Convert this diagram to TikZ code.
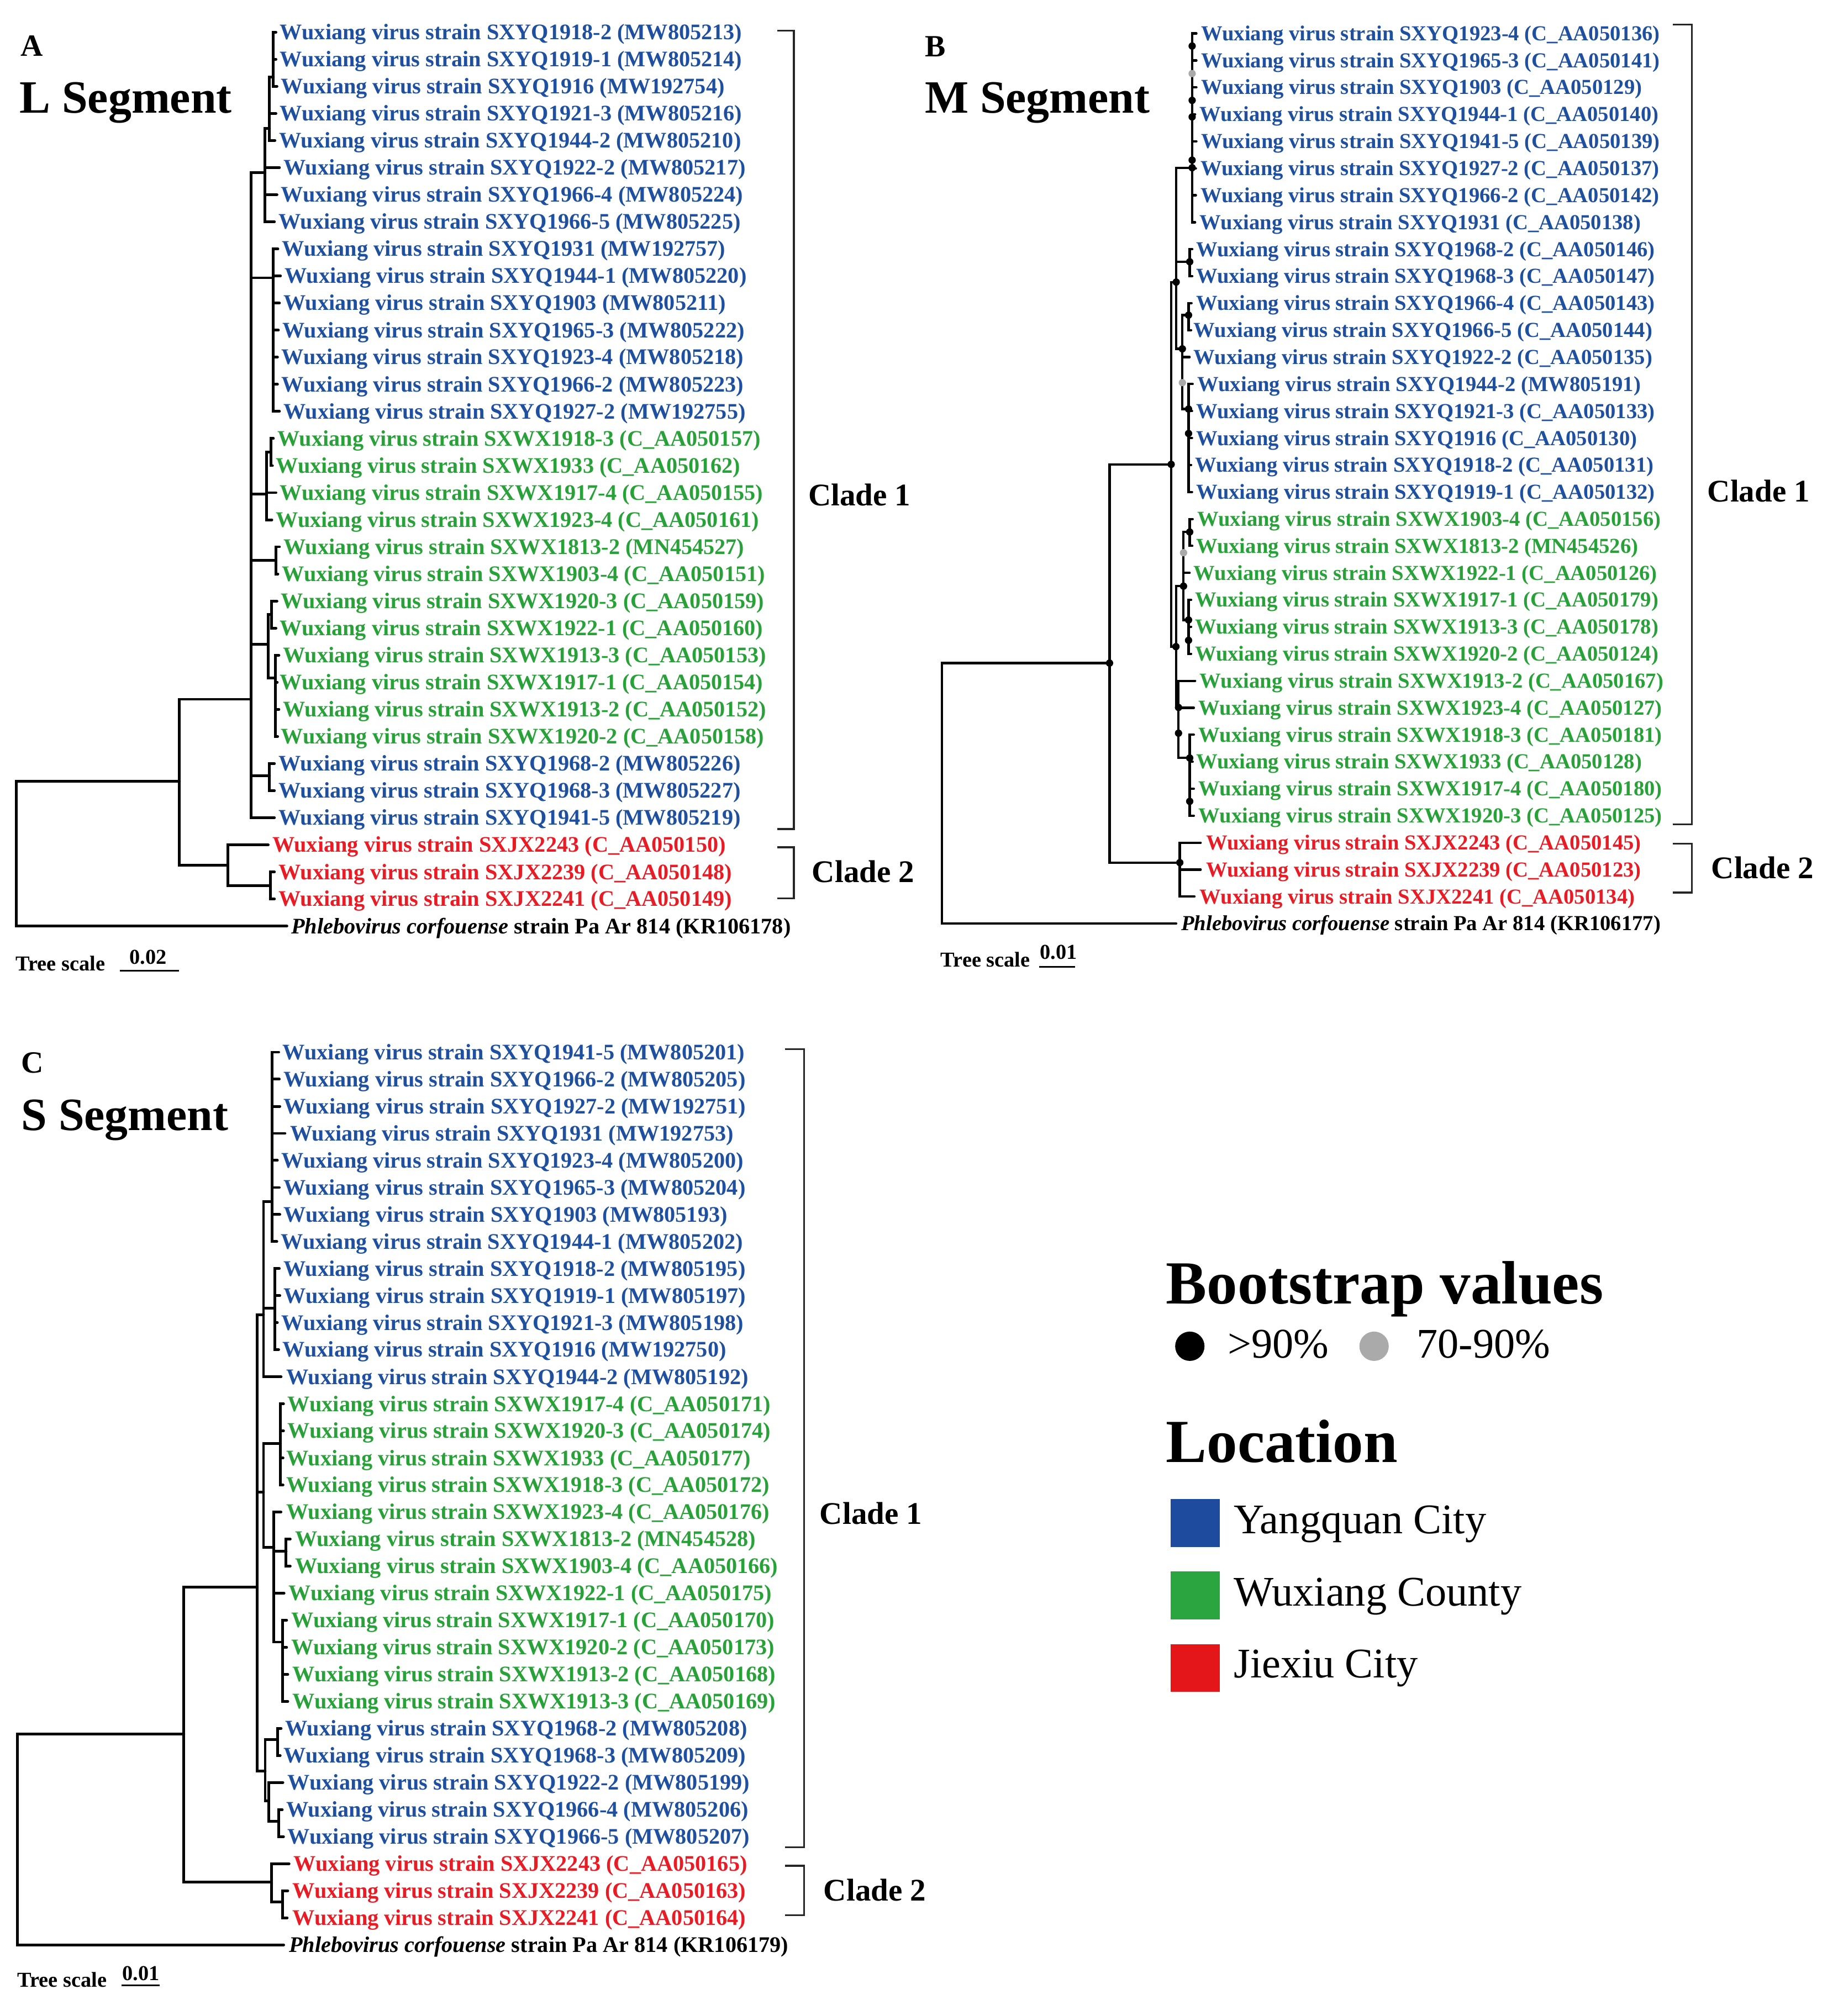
\documentclass[tikz,border=0pt]{standalone}
\usepackage{fontspec}
\setmainfont{Liberation Serif}
\definecolor{cblue}{RGB}{31,80,160}
\definecolor{cgreen}{RGB}{41,161,57}
\definecolor{cred}{RGB}{232,28,36}
\definecolor{lblue}{RGB}{31,75,159}
\definecolor{lgreen}{RGB}{43,165,64}
\definecolor{lred}{RGB}{229,22,26}
\definecolor{bsgray}{RGB}{170,170,170}
\tikzset{
  br/.style={line width=2.1pt, line join=miter, line cap=round},
  brB/.style={line width=1.8pt, line join=miter, line cap=round},
  brk/.style={line width=1.5pt, draw=black!85},
  lbl/.style={font=\fontsize{17.3}{20}\selectfont\bfseries, inner sep=0pt, anchor=base west},
  lblB/.style={font=\fontsize{16.6}{19}\selectfont\bfseries, inner sep=0pt, anchor=base west},
  outlbl/.style={font=\fontsize{17.3}{20}\selectfont\bfseries, inner sep=0pt, anchor=base west, text=black},
  outlblB/.style={font=\fontsize{16.6}{19}\selectfont\bfseries, inner sep=0pt, anchor=base west, text=black},
  clade/.style={font=\fontsize{24.5}{28}\selectfont\bfseries, inner sep=0pt, anchor=base west},
  panel/.style={font=\fontsize{24}{28}\selectfont\bfseries, inner sep=0pt, anchor=base west},
  segtitle/.style={font=\fontsize{36}{40}\selectfont\bfseries, inner sep=0pt, anchor=base west},
  scalelbl/.style={font=\fontsize{16.5}{19}\selectfont\bfseries, inner sep=0pt, anchor=base west},
  leghead/.style={font=\fontsize{47.6}{52}\selectfont\bfseries, inner sep=0pt, anchor=base west},
  legtxt/.style={font=\fontsize{32.8}{36}\selectfont, inner sep=0pt, anchor=base west},
  bsdot/.style={fill=black},
  bsgr/.style={fill=bsgray},
}
\newcommand{\wleaf}[6]{%
  \coordinate (#1) at (#2,#4);
  \node[lbl,text=#5] (#1t) at (#3,#4+5.7) {Wuxiang virus strain #6};
}
\newcommand{\wleafB}[6]{%
  \coordinate (#1) at (#2,#4);
  \node[lblB,text=#5] (#1t) at (#3,#4+5.5) {Wuxiang virus strain #6};
}
\newcommand{\kids}[2]{\foreach \kk in {#2}{\draw[br] (#1) |- (\kk);}}
\newcommand{\kidsB}[2]{\foreach \kk in {#2}{\draw[brB] (#1) |- (\kk);}}
\newcommand{\bd}[1]{\fill[bsdot] (#1) circle (2.85pt);}
\newcommand{\gd}[1]{\fill[bsgr] (#1) circle (2.85pt);}
\begin{document}
\begin{tikzpicture}[x=1pt,y=-1pt]
\useasboundingbox[fill=white] (0,0) rectangle (1428.6,1567.3);

%% ================= PANEL A : L segment =================
\node[panel] (Alab) at (16,43.5) {A};
\node[segtitle] (Aseg) at (15,88) {L Segment};

\coordinate (AR) at (12.7,660);
\coordinate (AN1) at (139.5,607.5);
\coordinate (AC1) at (195,543.6);
\coordinate (AC2) at (177,672.6);
\coordinate (AC2b) at (210,688.4);
\coordinate (AS1) at (206,134);
\coordinate (AS1a) at (209.5,100);
\coordinate (AS1b) at (212.5,60);
\coordinate (AS2) at (212.5,216);
\coordinate (AG1) at (207,384);
\coordinate (AG1a) at (210.5,351.5);
\coordinate (AG2) at (214.3,435.6);
\coordinate (AG3) at (208.3,501);
\coordinate (AG3a) at (211,477.8);
\coordinate (AG3b) at (214,527);
\coordinate (AY3) at (209.5,603);

\wleaf{a1}{214.5}{217.5}{25.0}{cblue}{SXYQ1918-2 (MW805213)}
\wleaf{a2}{214.5}{217.5}{46.1}{cblue}{SXYQ1919-1 (MW805214)}
\wleaf{a3}{215.3}{218.3}{67.1}{cblue}{SXYQ1916 (MW192754)}
\wleaf{a4}{214.5}{217.5}{88.2}{cblue}{SXYQ1921-3 (MW805216)}
\wleaf{a5}{213.7}{216.7}{109.2}{cblue}{SXYQ1944-2 (MW805210)}
\wleaf{a6}{217.2}{220.2}{130.3}{cblue}{SXYQ1922-2 (MW805217)}
\wleaf{a7}{215.3}{218.3}{151.4}{cblue}{SXYQ1966-4 (MW805224)}
\wleaf{a8}{213.3}{216.3}{172.4}{cblue}{SXYQ1966-5 (MW805225)}
\wleaf{a9}{216}{219}{193.5}{cblue}{SXYQ1931 (MW192757)}
\wleaf{a10}{218}{221}{214.5}{cblue}{SXYQ1944-1 (MW805220)}
\wleaf{a11}{217.2}{220.2}{235.6}{cblue}{SXYQ1903 (MW805211)}
\wleaf{a12}{216.4}{219.4}{256.7}{cblue}{SXYQ1965-3 (MW805222)}
\wleaf{a13}{215.7}{218.7}{277.7}{cblue}{SXYQ1923-4 (MW805218)}
\wleaf{a14}{215.7}{218.7}{298.8}{cblue}{SXYQ1966-2 (MW805223)}
\wleaf{a15}{217.2}{220.2}{319.8}{cblue}{SXYQ1927-2 (MW192755)}
\wleaf{a16}{212.5}{215.5}{340.9}{cgreen}{SXWX1918-3 (C\_AA050157)}
\wleaf{a17}{211.8}{214.3}{362.0}{cgreen}{SXWX1933 (C\_AA050162)}
\wleaf{a18}{214.5}{217.5}{383.0}{cgreen}{SXWX1917-4 (C\_AA050155)}
\wleaf{a19}{211.3}{214.3}{404.1}{cgreen}{SXWX1923-4 (C\_AA050161)}
\wleaf{a20}{217.2}{220.2}{425.1}{cgreen}{SXWX1813-2 (MN454527)}
\wleaf{a21}{216}{219}{446.2}{cgreen}{SXWX1903-4 (C\_AA050151)}
\wleaf{a22}{215.3}{218.3}{467.3}{cgreen}{SXWX1920-3 (C\_AA050159)}
\wleaf{a23}{214.5}{217.5}{488.3}{cgreen}{SXWX1922-1 (C\_AA050160)}
\wleaf{a24}{216.8}{219.8}{509.4}{cgreen}{SXWX1913-3 (C\_AA050153)}
\wleaf{a25}{215.5}{217.5}{530.4}{cgreen}{SXWX1917-1 (C\_AA050154)}
\wleaf{a26}{216.8}{219.8}{551.5}{cgreen}{SXWX1913-2 (C\_AA050152)}
\wleaf{a27}{215.8}{218.3}{572.6}{cgreen}{SXWX1920-2 (C\_AA050158)}
\wleaf{a28}{213.3}{216.3}{593.6}{cblue}{SXYQ1968-2 (MW805226)}
\wleaf{a29}{213.3}{216.3}{614.7}{cblue}{SXYQ1968-3 (MW805227)}
\wleaf{a30}{213.3}{216.3}{635.7}{cblue}{SXYQ1941-5 (MW805219)}
\wleaf{a31}{208.5}{211.5}{656.8}{cred}{SXJX2243 (C\_AA050150)}
\wleaf{a32}{213.3}{216.3}{677.9}{cred}{SXJX2239 (C\_AA050148)}
\wleaf{a33}{213.3}{216.3}{698.9}{cred}{SXJX2241 (C\_AA050149)}
\coordinate (aout) at (223,720);
\node[outlbl] (aoutt) at (226.2,725.7) {\textit{Phlebovirus corfouense} strain Pa Ar 814 (KR106178)};

\kids{AR}{AN1,aout}
\kids{AN1}{AC1,AC2}
\kids{AC1}{AS1,AS2,AG1,AG2,AG3,AY3,a30}
\kids{AS1}{AS1a,a6,a7,a8}
\kids{AS1a}{AS1b,a4,a5}
\kids{AS1b}{a1,a2,a3}
\kids{AS2}{a9,a10,a11,a12,a13,a14,a15}
\kids{AG1}{AG1a,a18,a19}
\kids{AG1a}{a16,a17}
\kids{AG2}{a20,a21}
\kids{AG3}{AG3a,AG3b}
\kids{AG3a}{a22,a23}
\kids{AG3b}{a24,a25,a26,a27}
\kids{AY3}{a28,a29}
\kids{AC2}{a31,AC2b}
\kids{AC2b}{a32,a33}

\coordinate (Ab1t) at (604,23.8);
\coordinate (Ab1b) at (604,644.6);
\draw[brk] (Ab1t) -- ++(13,0) |- (Ab1b);
\coordinate (Ab2t) at (604,658.7);
\coordinate (Ab2b) at (604,698.4);
\draw[brk] (Ab2t) -- ++(13,0) |- (Ab2b);
\node[clade] (Acl1) at (628,393) {Clade 1};
\node[clade] (Acl2) at (631,686) {Clade 2};

\node[scalelbl] (Atsc) at (12,754.5) {Tree scale};
\node[scalelbl] (Atsn) at (100.5,749.5) {0.02};
\coordinate (Asb1) at (93,754.5);
\coordinate (Asb2) at (139,754.5);
\draw[line width=1.4pt] (Asb1) -- (Asb2);

%% ================= PANEL B : M segment =================
\node[panel] (Blab) at (718.6,44) {B};
\node[segtitle] (Bseg) at (718.6,88) {M Segment};

\coordinate (BR) at (732,620);
\coordinate (BN1) at (862.4,515.5);
\coordinate (BC2) at (917,670.6);
\coordinate (BX) at (910.3,361);
\coordinate (BY) at (914.2,219.3);
\coordinate (BP1) at (926.6,130.4);
\coordinate (BP2) at (924.7,203.5);
\coordinate (BP3) at (919,271.2);
\coordinate (BP3a) at (923.8,245);
\coordinate (BP4) at (923.8,318);
\coordinate (BG) at (914,502.7);
\coordinate (BGb) at (919.9,455.7);
\coordinate (BGa) at (924.7,413.6);
\coordinate (BGd) at (923.8,482);
\coordinate (BGc) at (916,550);
\coordinate (BGe) at (924.7,589.3);

\wleafB{b1}{929.9}{933.4}{26.0}{cblue}{SXYQ1923-4 (C\_AA050136)}
\wleafB{b2}{929.9}{933.4}{47.0}{cblue}{SXYQ1965-3 (C\_AA050141)}
\wleafB{b3}{929.9}{933.4}{67.9}{cblue}{SXYQ1903 (C\_AA050129)}
\wleafB{b4}{928.9}{932.4}{88.9}{cblue}{SXYQ1944-1 (C\_AA050140)}
\wleafB{b5}{929.9}{933.4}{109.9}{cblue}{SXYQ1941-5 (C\_AA050139)}
\wleafB{b6}{929.5}{933}{130.9}{cblue}{SXYQ1927-2 (C\_AA050137)}
\wleafB{b7}{929.5}{933}{151.8}{cblue}{SXYQ1966-2 (C\_AA050142)}
\wleafB{b8}{928.9}{932.4}{172.8}{cblue}{SXYQ1931 (C\_AA050138)}
\wleafB{b9}{926.7}{929.5}{193.8}{cblue}{SXYQ1968-2 (C\_AA050146)}
\wleafB{b10}{926.7}{929.5}{214.7}{cblue}{SXYQ1968-3 (C\_AA050147)}
\wleafB{b11}{926.1}{929.5}{235.7}{cblue}{SXYQ1966-4 (C\_AA050143)}
\wleafB{b12}{925.8}{927.6}{256.7}{cblue}{SXYQ1966-5 (C\_AA050144)}
\wleafB{b13}{924.6}{927.6}{277.6}{cblue}{SXYQ1922-2 (C\_AA050135)}
\wleafB{b14}{927}{930.5}{298.6}{cblue}{SXYQ1944-2 (MW805191)}
\wleafB{b15}{926.5}{929.5}{319.6}{cblue}{SXYQ1921-3 (C\_AA050133)}
\wleafB{b16}{926.5}{929.5}{340.6}{cblue}{SXYQ1916 (C\_AA050130)}
\wleafB{b17}{925.8}{928.6}{361.5}{cblue}{SXYQ1918-2 (C\_AA050131)}
\wleafB{b18}{926.5}{929.5}{382.5}{cblue}{SXYQ1919-1 (C\_AA050132)}
\wleafB{b19}{927}{930.5}{403.5}{cgreen}{SXWX1903-4 (C\_AA050156)}
\wleafB{b20}{926.7}{929.5}{424.4}{cgreen}{SXWX1813-2 (MN454526)}
\wleafB{b21}{924.6}{927.6}{445.4}{cgreen}{SXWX1922-1 (C\_AA050126)}
\wleafB{b22}{925.8}{928.6}{466.4}{cgreen}{SXWX1917-1 (C\_AA050179)}
\wleafB{b23}{925.8}{928.6}{487.3}{cgreen}{SXWX1913-3 (C\_AA050178)}
\wleafB{b24}{925.8}{928.6}{508.3}{cgreen}{SXWX1920-2 (C\_AA050124)}
\wleafB{b25}{928.9}{932.4}{529.3}{cgreen}{SXWX1913-2 (C\_AA050167)}
\wleafB{b26}{927.9}{931.4}{550.3}{cgreen}{SXWX1923-4 (C\_AA050127)}
\wleafB{b27}{927.9}{931.4}{571.2}{cgreen}{SXWX1918-3 (C\_AA050181)}
\wleafB{b28}{927}{929.5}{592.2}{cgreen}{SXWX1933 (C\_AA050128)}
\wleafB{b29}{927.9}{931.4}{613.2}{cgreen}{SXWX1917-4 (C\_AA050180)}
\wleafB{b30}{927.9}{931.4}{634.1}{cgreen}{SXWX1920-3 (C\_AA050125)}
\wleafB{b31}{933.2}{937.2}{655.1}{cred}{SXJX2243 (C\_AA050145)}
\wleafB{b32}{933.2}{937.2}{676.1}{cred}{SXJX2239 (C\_AA050123)}
\wleafB{b33}{928.4}{932.4}{697.0}{cred}{SXJX2241 (C\_AA050134)}
\coordinate (bout) at (914.2,718);
\node[outlblB] (boutt) at (918,723.5) {\textit{Phlebovirus corfouense} strain Pa Ar 814 (KR106177)};

\kidsB{BR}{BN1,bout}
\kidsB{BN1}{BX,BC2}
\kidsB{BX}{BY,BG}
\kidsB{BY}{BP1,BP2,BP3}
\kidsB{BP1}{b1,b2,b3,b4,b5,b6,b7,b8}
\kidsB{BP2}{b9,b10}
\kidsB{BP3}{BP3a,b13,BP4}
\kidsB{BP3a}{b11,b12}
\kidsB{BP4}{b14,b15,b16,b17,b18}
\kidsB{BG}{BGb,BGc}
\kidsB{BGb}{BGa,b21,BGd}
\kidsB{BGa}{b19,b20}
\kidsB{BGd}{b22,b23,b24}
\kidsB{BGc}{b25,b26,BGe}
\kidsB{BGe}{b27,b28,b29,b30}
\kidsB{BC2}{b31,b32,b33}

% bootstrap support dots
\foreach \nn in {BN1,BC2,BX,BY,BP1,BP2,BP3,BP3a,BP4,BG,BGb,BGa,BGd,BGc,BGe}{\bd{\nn}}
\bd{926.6,35.8}\bd{926.6,78}\bd{926.6,90.9}\bd{926.6,124.5}
\bd{923.8,337}\bd{923.8,497.8}\bd{916,570}\bd{924.7,623}
\gd{926.6,57.2}\gd{919,297.5}\gd{919.9,429.7}

\coordinate (Bb1t) at (1300,19.2);
\coordinate (Bb1b) at (1300,640.9);
\draw[brk] (Bb1t) -- ++(15,0) |- (Bb1b);
\coordinate (Bb2t) at (1300,655.9);
\coordinate (Bb2b) at (1300,694);
\draw[brk] (Bb2t) -- ++(15,0) |- (Bb2b);
\node[clade] (Bcl1) at (1327,390) {Clade 1};
\node[clade] (Bcl2) at (1330,683) {Clade 2};

\node[scalelbl] (Btsc) at (731,751.7) {Tree scale};
\node[scalelbl] (Btsn) at (808,745.7) {0.01};
\coordinate (Bsb1) at (807.8,751.7);
\coordinate (Bsb2) at (835.6,751.7);
\draw[line width=1.4pt] (Bsb1) -- (Bsb2);

%% ================= PANEL C : S segment =================
\node[panel] (Clab) at (16.3,834) {C};
\node[segtitle] (Cseg) at (16.3,878.6) {S Segment};

\coordinate (CR) at (13.4,1420);
\coordinate (CN1) at (142.9,1348.2);
\coordinate (CC1) at (200,1234);
\coordinate (CNY) at (204.8,1022);
\coordinate (CY1) at (211.5,934.3);
\coordinate (CY2) at (213.5,1017);
\coordinate (CNG) at (204.8,1160);
\coordinate (CG1) at (218,1122.4);
\coordinate (CNG2) at (212.9,1203);
\coordinate (CG1920) at (222.4,1206);
\coordinate (CG4) at (219.6,1276.6);
\coordinate (CB2) at (206.1,1377);
\coordinate (CB2a) at (215.7,1352.3);
\coordinate (CB2b) at (209,1400);
\coordinate (CB2c) at (216.7,1415.8);
\coordinate (CC2) at (210.9,1463.3);
\coordinate (CC2b) at (219.6,1478.5);

\wleaf{c1}{216.6}{219.6}{818.0}{cblue}{SXYQ1941-5 (MW805201)}
\wleaf{c2}{217.1}{220.1}{839.0}{cblue}{SXYQ1966-2 (MW805205)}
\wleaf{c3}{217.5}{220.5}{860.1}{cblue}{SXYQ1927-2 (MW192751)}
\wleaf{c4}{221.5}{225.3}{881.1}{cblue}{SXYQ1931 (MW192753)}
\wleaf{c5}{215.6}{218.6}{902.1}{cblue}{SXYQ1923-4 (MW805200)}
\wleaf{c6}{217.1}{220.1}{923.2}{cblue}{SXYQ1965-3 (MW805204)}
\wleaf{c7}{217.5}{220.5}{944.2}{cblue}{SXYQ1903 (MW805193)}
\wleaf{c8}{215.2}{218.2}{965.2}{cblue}{SXYQ1944-1 (MW805202)}
\wleaf{c9}{217.1}{220.1}{986.2}{cblue}{SXYQ1918-2 (MW805195)}
\wleaf{c10}{217.5}{220.5}{1007.3}{cblue}{SXYQ1919-1 (MW805197)}
\wleaf{c11}{215.6}{218.6}{1028.3}{cblue}{SXYQ1921-3 (MW805198)}
\wleaf{c12}{216.6}{219.6}{1049.3}{cblue}{SXYQ1916 (MW192750)}
\wleaf{c13}{218.5}{222.4}{1070.4}{cblue}{SXYQ1944-2 (MW805192)}
\wleaf{c14}{220.4}{223.4}{1091.4}{cgreen}{SXWX1917-4 (C\_AA050171)}
\wleaf{c15}{220.4}{223.4}{1112.4}{cgreen}{SXWX1920-3 (C\_AA050174)}
\wleaf{c16}{220}{222.4}{1133.5}{cgreen}{SXWX1933 (C\_AA050177)}
\wleaf{c17}{220}{222.4}{1154.5}{cgreen}{SXWX1918-3 (C\_AA050172)}
\wleaf{c18}{218.4}{222.4}{1175.5}{cgreen}{SXWX1923-4 (C\_AA050176)}
\wleaf{c19}{225.6}{229.1}{1196.5}{cgreen}{SXWX1813-2 (MN454528)}
\wleaf{c20}{225.6}{229.1}{1217.6}{cgreen}{SXWX1903-4 (C\_AA050166)}
\wleaf{c21}{220.8}{224.3}{1238.6}{cgreen}{SXWX1922-1 (C\_AA050175)}
\wleaf{c22}{222.8}{226.3}{1259.6}{cgreen}{SXWX1917-1 (C\_AA050170)}
\wleaf{c23}{222.8}{226.3}{1280.7}{cgreen}{SXWX1920-2 (C\_AA050173)}
\wleaf{c24}{223.7}{227.2}{1301.7}{cgreen}{SXWX1913-2 (C\_AA050168)}
\wleaf{c25}{223.7}{227.2}{1322.7}{cgreen}{SXWX1913-3 (C\_AA050169)}
\wleaf{c26}{218.5}{221.5}{1343.8}{cblue}{SXYQ1968-2 (MW805208)}
\wleaf{c27}{217.8}{220.5}{1364.8}{cblue}{SXYQ1968-3 (MW805209)}
\wleaf{c28}{219.9}{223.4}{1385.8}{cblue}{SXYQ1922-2 (MW805199)}
\wleaf{c29}{219.4}{222.4}{1406.9}{cblue}{SXYQ1966-4 (MW805206)}
\wleaf{c30}{220.4}{223.4}{1427.9}{cblue}{SXYQ1966-5 (MW805207)}
\wleaf{c31}{224.7}{228.2}{1448.9}{cred}{SXJX2243 (C\_AA050165)}
\wleaf{c32}{223.7}{227.2}{1469.9}{cred}{SXJX2239 (C\_AA050163)}
\wleaf{c33}{223.2}{227.2}{1491.0}{cred}{SXJX2241 (C\_AA050164)}
\coordinate (cout) at (220.5,1512);
\node[outlbl] (coutt) at (224.4,1517.7) {\textit{Phlebovirus corfouense} strain Pa Ar 814 (KR106179)};

\kids{CR}{CN1,cout}
\kids{CN1}{CC1,CC2}
\kids{CC1}{CNY,CNG,CB2}
\kids{CNY}{CY1,CY2,c13}
\kids{CY1}{c1,c2,c3,c4,c5,c6,c7,c8}
\kids{CY2}{c9,c10,c11,c12}
\kids{CNG}{CG1,CNG2}
\kids{CG1}{c14,c15,c16,c17}
\kids{CNG2}{c18,CG1920,c21,CG4}
\kids{CG1920}{c19,c20}
\kids{CG4}{c22,c23,c24,c25}
\kids{CB2}{CB2a,CB2b}
\kids{CB2a}{c26,c27}
\kids{CB2b}{c28,CB2c}
\kids{CB2c}{c29,c30}
\kids{CC2}{c31,CC2b}
\kids{CC2b}{c32,c33}

\coordinate (Cb1t) at (610,815.7);
\coordinate (Cb1b) at (610,1436);
\draw[brk] (Cb1t) -- ++(15,0) |- (Cb1b);
\coordinate (Cb2t) at (610,1450.5);
\coordinate (Cb2b) at (610,1488.9);
\draw[brk] (Cb2t) -- ++(15,0) |- (Cb2b);
\node[clade] (Ccl1) at (637,1184.8) {Clade 1};
\node[clade] (Ccl2) at (640,1477.6) {Clade 2};

\node[scalelbl] (Ctsc) at (13.4,1544.6) {Tree scale};
\node[scalelbl] (Ctsn) at (95,1539.5) {0.01};
\coordinate (Csb1) at (94.3,1543.3);
\coordinate (Csb2) at (124.3,1543.3);
\draw[line width=1.4pt] (Csb1) -- (Csb2);

%% ================= LEGEND =================
\node[leghead] (Lbs) at (906.2,1013.5) {Bootstrap values};
\fill[bsdot] (924.8,1046.6) circle (11.4pt);
\node[legtxt] (Lhi) at (954,1055.8) {>90\%};
\fill[bsgr] (1068,1046.6) circle (11.4pt);
\node[legtxt] (Lmid) at (1101,1055.8) {70-90\%};
\node[leghead] (Lloc) at (906.2,1136.7) {Location};
\fill[lblue] (909.7,1165.2) rectangle (948.1,1202.9);
\node[legtxt] (Lyq) at (958.8,1192.4) {Yangquan City};
\fill[lgreen] (909.7,1221.7) rectangle (948.1,1259.1);
\node[legtxt] (Lwx) at (958.8,1248.4) {Wuxiang County};
\fill[lred] (909.7,1278.1) rectangle (948.1,1315.4);
\node[legtxt] (Ljx) at (958.8,1304.3) {Jiexiu City};
\end{tikzpicture}
\end{document}
